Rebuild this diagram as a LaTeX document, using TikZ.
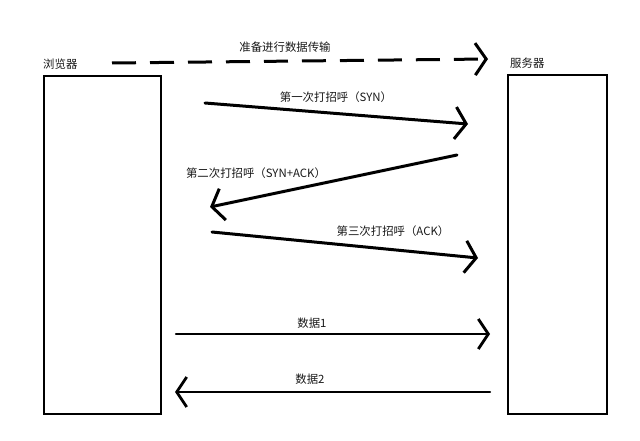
\documentclass[tikz,border=0pt]{standalone}
\usepackage{fontspec}
\newfontfamily\cjk{Noto Sans CJK SC}
\usetikzlibrary{arrows.meta}
\tikzset{
  box/.style={draw, line width=2pt, inner sep=0pt},
  lbl/.style={font=\cjk\fontsize{11.4}{13}\selectfont, inner sep=0pt, text=black!90},
  hs/.style={line width=3pt, line cap=round, -{Straight Barb[length=11pt,width=32pt,line width=3pt]}},
  dt/.style={line width=2.3pt, line cap=round, -{Straight Barb[length=10pt,width=30pt,line width=2.8pt]}},
}
\begin{document}
\begin{tikzpicture}[x=1pt,y=-1pt]
\useasboundingbox[fill=white] (0,0) rectangle (640,441);
% boxes
\node[box, minimum width=117pt, minimum height=338pt] (browser) at (102,245) {};
\node[box, minimum width=99pt, minimum height=339pt] (server) at (557.5,244.5) {};
\node[lbl, anchor=west] (bl) at (43,64) {浏览器};
\node[lbl, anchor=west] (sl) at (510,63) {服务器};
% dashed
\coordinate (d0) at (112,63);
\coordinate (d1) at (488,59);
\draw[line width=3pt, dash pattern=on 24pt off 14pt, -{Straight Barb[length=11pt,width=32pt,line width=3pt]}] (d0) -- (d1);
\node[lbl] (dl) at (285,47) {准备进行数据传输};
% handshake 1
\coordinate (a0) at (205,103);
\coordinate (a1) at (468,124);
\draw[hs] (a0) -- (a1);
\node[lbl] (al) at (336,97) {第一次打招呼（SYN）};
% handshake 2
\coordinate (b0) at (457,155);
\coordinate (b1) at (210,207);
\draw[hs] (b0) -- (b1);
\node[lbl] (blb) at (256,173) {第二次打招呼（SYN+ACK）};
% handshake 3
\coordinate (c0) at (212,232);
\coordinate (c1) at (478,258);
\draw[hs] (c0) -- (c1);
\node[lbl] (cl) at (393,231) {第三次打招呼（ACK）};
% data 1
\coordinate (e0) at (176,334);
\coordinate (e1) at (490,334);
\draw[dt] (e0) -- (e1);
\node[lbl] (el) at (312,323) {数据1};
% data 2
\coordinate (f0) at (490,392);
\coordinate (f1) at (175,392);
\draw[dt] (f0) -- (f1);
\node[lbl] (fl) at (310,379) {数据2};
\end{tikzpicture}
\end{document}
